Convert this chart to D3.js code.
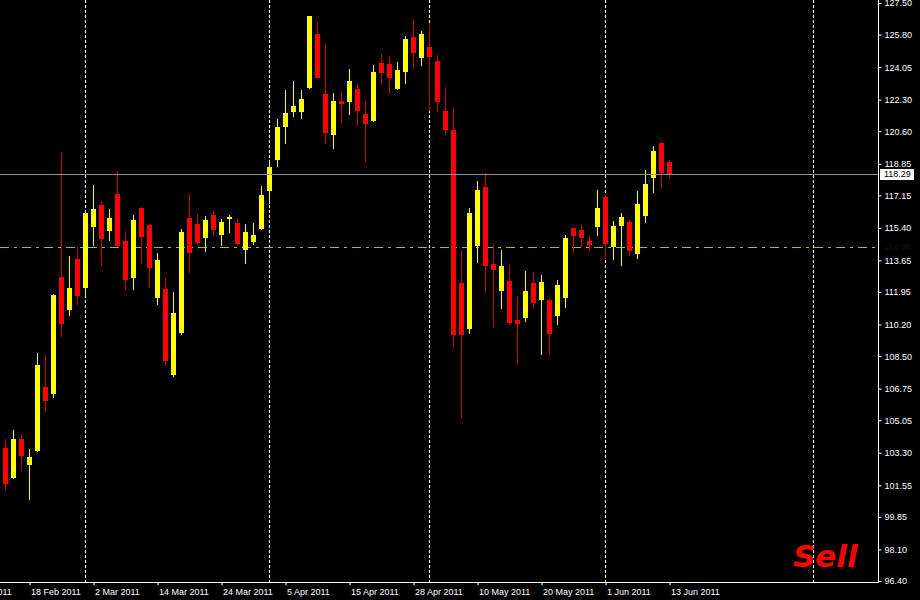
<!DOCTYPE html>
<html>
<head>
<meta charset="utf-8">
<script src="https://cdn.jsdelivr.net/npm/d3@7"></script>
<style>
  html, body { margin: 0; padding: 0; background: #000; }
  svg { display: block; }
</style>
</head>
<body>
<svg id="chart" width="920" height="600"></svg>
<script>
// ---- Data (daily candles, 15 Feb 2011 .. 13 Jun 2011) ----
const opens = [103.56,101.94,104.04,102.66,103.39,106.84,106.46,112.76,110.98,113.73,
  112.18,115.45,116.63,115.23,117.22,114.69,112.72,116.47,115.55,111.64,
  112.11,107.47,109.73,115.93,115.61,114.87,116.09,115.02,115.88,115.66,
  114.23,114.64,115.32,117.40,119.05,120.83,121.65,121.65,122.91,125.85,
  122.60,120.40,122.23,122.19,122.87,121.53,121.17,124.27,124.22,122.87,
  123.80,125.67,124.56,125.13,124.38,121.69,120.67,112.43,109.98,114.43,
  117.60,113.46,112.02,112.54,110.44,110.57,112.43,111.54,111.52,110.67,
  111.64,115.39,115.29,114.69,115.46,117.08,114.39,115.52,115.72,114.01,
  116.06,118.10,119.97,118.94];
const highs = [104.04,104.52,104.26,103.50,108.68,108.56,111.85,119.48,113.89,114.35,
  116.31,117.71,116.85,116.42,118.46,115.23,116.09,116.55,115.60,114.05,
  112.70,111.95,115.32,117.22,116.15,116.04,116.31,115.88,116.09,115.88,
  115.61,115.66,117.65,119.01,121.26,122.82,123.30,122.82,126.82,126.48,
  125.29,122.64,122.77,123.95,123.20,122.23,124.16,124.76,124.65,124.33,
  125.72,126.59,125.99,126.42,124.70,122.98,121.89,114.21,116.45,117.92,
  118.35,114.48,114.21,113.46,111.73,113.08,113.03,112.86,111.63,112.60,
  115.02,115.45,115.61,114.96,117.44,117.15,115.77,116.20,115.82,117.38,
  118.51,119.81,120.02,119.05];
const lows = [101.26,101.89,102.33,100.76,103.34,105.51,106.26,109.54,110.67,111.27,
  111.75,114.43,113.35,114.69,114.35,112.06,112.06,113.46,112.18,111.27,
  108.04,107.39,109.65,112.99,114.50,114.12,114.96,114.43,115.12,114.48,
  113.46,114.48,115.29,116.68,118.69,119.91,121.38,121.26,122.87,123.43,
  119.91,119.64,121.06,121.47,120.90,118.96,121.10,123.10,122.62,122.82,
  123.14,123.95,124.13,121.70,121.65,120.41,109.01,105.19,109.71,113.51,
  111.91,110.08,111.05,110.19,108.04,110.35,111.11,108.58,108.58,110.19,
  111.11,114.06,114.39,114.17,114.96,113.80,113.69,113.36,113.90,113.74,
  115.68,117.29,117.56,118.05];
const closes = [101.62,104.04,103.14,103.07,108.02,106.08,111.79,110.24,112.16,111.75,
  116.20,116.42,114.80,115.93,114.43,112.60,115.82,114.91,113.26,113.67,
  108.24,110.82,115.18,114.05,114.59,115.82,115.29,115.72,116.00,114.53,
  115.18,115.02,117.17,118.68,120.84,121.60,121.96,122.35,126.80,123.48,
  120.52,122.23,122.08,123.30,121.70,121.01,123.79,123.75,123.48,123.89,
  125.56,124.83,125.83,124.61,122.19,120.68,109.65,109.65,116.20,117.44,
  113.36,113.15,113.35,110.28,110.24,112.00,111.37,112.49,109.71,112.33,
  114.86,114.96,114.87,114.48,116.47,114.55,115.50,115.97,114.17,116.68,
  117.76,119.54,118.37,118.29];

const priceTicks = [127.50,125.80,124.05,122.30,120.60,118.85,117.15,115.40,113.65,111.95,
  110.20,108.50,106.75,105.05,103.30,101.55,99.85,98.10,96.40];
const dateTickBars = [-5,3,11,19,27,35,43,51,59,67,75,83];
const dateTickLabels = ["8 Feb 2011","18 Feb 2011","2 Mar 2011","14 Mar 2011","24 Mar 2011",
  "5 Apr 2011","15 Apr 2011","28 Apr 2011","10 May 2011","20 May 2011","1 Jun 2011","13 Jun 2011"];
const monthGridBars = [10,33,53,75,101];
const bidPrice = 118.29;
const levelPrice = 114.38;
const signalText = "Sell";

// ---- Chart ----
const svg = d3.select("#chart");
const W = 920, H = 600;
const plotRight = 878, plotBottom = 582;
const FONT = "'Liberation Sans', Arial, sans-serif";

svg.append("rect").attr("width", W).attr("height", H).attr("fill", "#000");

const x = d3.scaleLinear().domain([0, 83]).range([5.5, 669.5]);
const y = d3.scaleLinear().domain([96.40, 127.50]).range([581, 3]);

const candles = opens.map((o, i) => ({ i, o, h: highs[i], l: lows[i], c: closes[i] }));

const plot = svg.append("g");

// month separators
plot.selectAll("line.grid").data(monthGridBars).join("line")
  .attr("x1", d => Math.round(x(d) - 0.5) + 0.5).attr("x2", d => Math.round(x(d) - 0.5) + 0.5)
  .attr("y1", 0).attr("y2", plotBottom)
  .attr("stroke", "#fff").attr("stroke-width", 1).attr("stroke-dasharray", "3,2");

// level line (dash-dot)
plot.append("line")
  .attr("x1", 0).attr("x2", plotRight)
  .attr("y1", Math.round(y(levelPrice)) + 0.5).attr("y2", Math.round(y(levelPrice)) + 0.5)
  .attr("stroke", "#80d030").attr("stroke-width", 1.2).attr("stroke-dasharray", "9,5,3,5")
  .attr("shape-rendering", "crispEdges");

// wicks
plot.selectAll("line.wick").data(candles).join("line")
  .attr("x1", d => x(d.i)).attr("x2", d => x(d.i))
  .attr("y1", d => y(d.h)).attr("y2", d => y(d.l))
  .attr("stroke", d => d.c >= d.o ? "#ffff00" : "#cc0000")
  .attr("stroke-width", 1).attr("shape-rendering", "crispEdges");

// bodies
plot.selectAll("rect.body").data(candles).join("rect")
  .attr("x", d => x(d.i) - 2.5)
  .attr("width", 5)
  .attr("y", d => y(Math.max(d.o, d.c)))
  .attr("height", d => Math.max(1, Math.abs(y(d.o) - y(d.c))))
  .attr("fill", d => d.c >= d.o ? "#ffff00" : "#ff0000")
  .attr("shape-rendering", "crispEdges");

// bid line
plot.append("line")
  .attr("x1", 0).attr("x2", plotRight)
  .attr("y1", Math.round(y(bidPrice)) + 0.5).attr("y2", Math.round(y(bidPrice)) + 0.5)
  .attr("stroke", "#9090a4").attr("stroke-width", 1);

// right axis
const yAxis = d3.axisRight(y).tickValues(priceTicks)
  .tickFormat(d3.format(".2f")).tickSize(3).tickSizeOuter(0);
const gy = svg.append("g").attr("transform", `translate(${plotRight + 0.5},0)`).call(yAxis);
gy.select(".domain").remove();
gy.selectAll(".tick line").attr("stroke", "#fff");
gy.selectAll(".tick text").attr("fill", "#fff").attr("font-family", FONT).attr("font-size", 9).attr("x", 6);

// bottom axis
const xAxis = d3.axisBottom(x).tickValues(dateTickBars)
  .tickFormat((d, i) => dateTickLabels[i]).tickSize(3).tickSizeOuter(0);
const gx = svg.append("g").attr("transform", `translate(0,${plotBottom + 0.5})`).call(xAxis);
gx.select(".domain").remove();
gx.selectAll(".tick line").attr("stroke", "#fff");
gx.selectAll(".tick text").attr("fill", "#fff").attr("font-family", FONT).attr("font-size", 9)
  .attr("text-anchor", "start").attr("dx", 1);

// borders
svg.append("line").attr("x1", plotRight + 0.5).attr("x2", plotRight + 0.5).attr("y1", 0).attr("y2", plotBottom + 0.5)
  .attr("stroke", "#fff");
svg.append("line").attr("x1", 0).attr("x2", plotRight + 0.5).attr("y1", plotBottom + 0.5).attr("y2", plotBottom + 0.5)
  .attr("stroke", "#fff");

// faint level label
svg.append("text").attr("x", 884).attr("y", y(levelPrice)).attr("dy", "0.32em")
  .attr("font-family", FONT).attr("font-size", 9).attr("fill", "#0e160a")
  .text(d3.format(".2f")(levelPrice));

// bid price label
const by = y(bidPrice);
svg.append("rect").attr("x", 880).attr("y", Math.round(by) - 5).attr("width", 34).attr("height", 11).attr("fill", "#fff");
svg.append("text").attr("x", 884).attr("y", by).attr("dy", "0.34em")
  .attr("font-family", FONT).attr("font-size", 9).attr("fill", "#000")
  .text(d3.format(".2f")(bidPrice));

// signal text
svg.append("text").attr("x", 793).attr("y", 567)
  .attr("font-family", "'DejaVu Sans', sans-serif").attr("font-size", 31)
  .attr("font-weight", "bold").attr("font-style", "italic")
  .attr("fill", "#ff0000").text(signalText);
</script>
</body>
</html>
